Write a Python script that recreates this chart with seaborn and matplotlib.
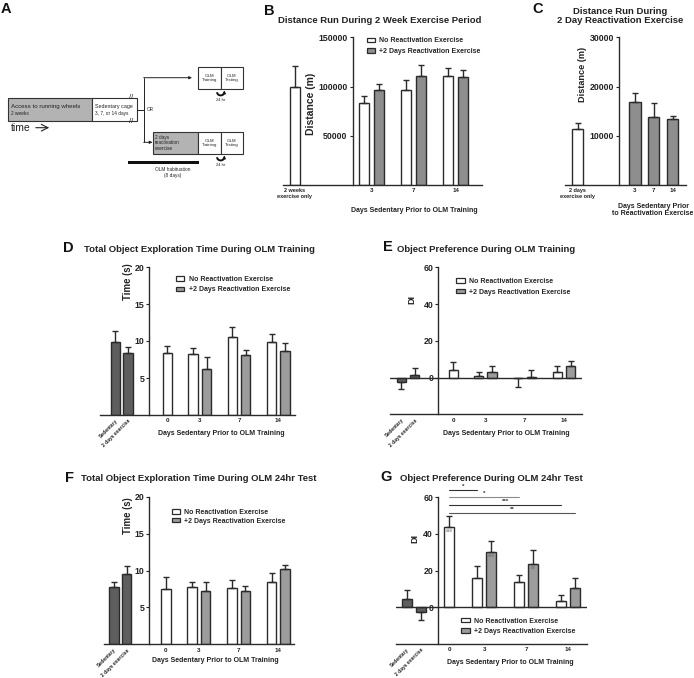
import numpy as np
import pandas as pd
import matplotlib.pyplot as plt
import seaborn as sns
from matplotlib.patches import Patch, Rectangle

sns.set_theme(style="ticks")
plt.rcParams['font.family'] = ['Liberation Sans', 'DejaVu Sans']
plt.rcParams['font.weight'] = 'bold'
plt.rcParams['axes.linewidth'] = 1.0

W, H = 694, 678
EDGE = '#2b2b2b'

series = ['No Reactivation Exercise', '+2 Days Reactivation Exercise']

# B - distance run during the 2 week exercise period
b_days = ['3', '7', '14']
b_ctrl_label = '2 weeks\nexercise only'
b_ctrl = [100000]
b_ctrl_sem = [20900]
b_no = [83200, 96600, 110800]
b_no_sem = [7400, 10100, 7700]
b_re = [96300, 110400, 110100]
b_re_sem = [6400, 11500, 6700]

# C - distance run during the 2 day reactivation
c_days = ['3', '7', '14']
c_ctrl_label = '2 days\nexercise only'
c_ctrl = [11300]
c_ctrl_sem = [1350]
c_re = [16900, 13750, 13350]
c_re_sem = [1800, 2950, 750]

# D-G share the same groups
days = ['0', '3', '7', '14']
base_labels = ['Sedentary', '2 days exercise']

d_base = [9.9, 8.4]
d_base_sem = [1.4, 0.75]
d_no = [8.4, 8.2, 10.5, 9.8]
d_no_sem = [0.9, 0.8, 1.4, 1.2]
d_re = [6.2, 8.1, 8.7]
d_re_sem = [1.6, 0.75, 1.0]

e_base = [-2.2, 1.3]
e_base_sem = [3.9, 3.9]
e_no = [4.3, 0.9, -0.5, 3.1]
e_no_sem = [4.0, 2.3, 4.9, 3.4]
e_re = [3.1, 0.2, 6.1]
e_re_sem = [3.0, 3.7, 3.1]

f_base = [7.7, 9.5]
f_base_sem = [0.7, 1.05]
f_no = [7.5, 7.8, 7.6, 8.5]
f_no_sem = [1.6, 0.7, 1.1, 1.2]
f_re = [7.25, 7.25, 10.2]
f_re_sem = [1.25, 0.7, 0.6]

g_base = [4.4, -2.5]
g_base_sem = [5.1, 4.4]
g_no = [44.0, 15.8, 13.8, 3.3]
g_no_sem = [5.6, 6.9, 3.7, 3.2]
g_re = [30.0, 23.8, 10.4]
g_re_sem = [6.2, 7.3, 5.4]

# significance vs day 0 (no reactivation)
g_sig_to = [('3', 'no'), ('7', 'no'), ('14', 'no'), ('14', 're')]
g_sig_marks = ['*', '*', '***', '**']
g_sig_y = [63.8, 60.0, 55.6, 51.3]
g_sig_colors = ['#333333', '#8a8a8a', '#333333', '#555555']
g_hash = [('0', 'no', '###'), ('3', 're', '###'), ('7', 're', '##')]

fig = plt.figure(figsize=(W / 100, H / 100), dpi=100)


def px_axes(x0, top, x1, bottom):
    return fig.add_axes([x0 / W, 1 - bottom / H, (x1 - x0) / W, (bottom - top) / H])


def ftext(x, y, s, **kw):
    kw.setdefault('ha', 'center')
    kw.setdefault('va', 'center')
    return fig.text(x / W, 1 - y / H, s, **kw)


def draw_bars(ax, df, bar_w, pal, yaxis_x, xlim, ylim, yticks):
    gap = np.min(np.diff(np.unique(df['pos'])))
    sns.barplot(data=df, x='pos', y='value', hue='kind', palette=pal,
                native_scale=True, dodge=False, width=bar_w / gap,
                errorbar=None, saturation=1, edgecolor=EDGE, linewidth=1.0,
                legend=False, ax=ax)
    up = np.where(df['value'] >= 0, df['sem'], 0)
    lo = np.where(df['value'] < 0, df['sem'], 0)
    ax.errorbar(df['pos'], df['value'], yerr=[lo, up], fmt='none',
                ecolor=EDGE, elinewidth=1.0, capsize=2.2, capthick=1.0)
    ax.set_xlim(*xlim)
    ax.set_ylim(*ylim)
    ax.set_yticks(yticks, [f'{t:g}' for t in yticks])
    ax.spines['left'].set_position(('data', yaxis_x))
    ax.spines[['top', 'right']].set_visible(False)
    for s in ('left', 'bottom'):
        ax.spines[s].set_color(EDGE)
    ax.tick_params(axis='y', labelsize=6.3, length=2.5, width=0.8, pad=1.2, colors='#222')
    ax.tick_params(axis='x', length=0, pad=2.5, labelsize=4.5, colors='#222')
    ax.set_xlabel('')
    ax.set_ylabel('')
    ax.set_facecolor('none')


def add_legend(ax, pal, anchor, spacing=0.5):
    handles = [Patch(facecolor=pal['no'], edgecolor=EDGE, lw=0.9, label=series[0]),
               Patch(facecolor=pal['re'], edgecolor=EDGE, lw=0.9, label=series[1])]
    ax.legend(handles=handles, loc='upper left', bbox_to_anchor=anchor,
              frameon=False, prop={'size': 5, 'weight': 'bold'},
              handlelength=1.25, handleheight=0.6, handletextpad=0.6,
              labelspacing=spacing, borderaxespad=0, borderpad=0)


OFF = 0.17


def olm_frame(base, base_sem, no, no_sem, re, re_sem, lay):
    day_x = np.r_[lay['g0'], np.arange(len(days) - 1, dtype=float)]
    no_x = day_x - np.r_[0, np.full(len(days) - 1, OFF)]
    re_x = day_x[1:] + OFF
    df = pd.concat([
        pd.DataFrame({'pos': lay['base'], 'value': base, 'sem': base_sem,
                      'kind': 'base', 'day': base_labels}),
        pd.DataFrame({'pos': no_x, 'value': no, 'sem': no_sem, 'kind': 'no', 'day': days}),
        pd.DataFrame({'pos': re_x, 'value': re, 'sem': re_sem, 'kind': 're', 'day': days[1:]}),
    ], ignore_index=True)
    return df, day_x


def olm_panel(box, data, lay, ylim, yticks, zero_line):
    ax = px_axes(*box)
    df, day_x = olm_frame(*data, lay)
    draw_bars(ax, df, 0.24, pal_olm, lay['yaxis'], lay['xlim'], ylim, yticks)
    if zero_line:
        ax.axhline(0, color=EDGE, lw=1.0, zorder=2)
    ax.set_xticks([*lay['base'], *day_x], [*base_labels, *days])
    for lab in ax.get_xticklabels()[:2]:
        lab.set_rotation(45)
        lab.set_ha('right')
        lab.set_rotation_mode('anchor')
        lab.set_fontsize(3.6)
    return ax, df


# ---------- A : design schematic ----------
axA = fig.add_axes([0, 1 - 195 / H, 250 / W, 195 / H])
axA.set_xlim(0, 250)
axA.set_ylim(195, 0)
axA.axis('off')
tk = dict(fontweight='normal', color='#222', va='center')
axA.add_patch(Rectangle((8.3, 98.3), 84, 22.4, fc='#b3b3b3', ec='#333', lw=0.8))
axA.add_patch(Rectangle((92.3, 98.3), 45, 22.4, fc='white', ec='#333', lw=0.8))
axA.text(11, 106.5, 'Access to running wheels', fontsize=4.4, ha='left', **tk)
axA.text(11, 113.8, '2 weeks', fontsize=3.4, ha='left', **tk)
axA.text(95, 106.5, 'Sedentary cage', fontsize=3.9, ha='left', **tk)
axA.text(95, 113.8, '3, 7, or 14 days', fontsize=3.4, ha='left', **tk)
for yy in (97.8, 121.2):
    axA.text(131.5, yy, '//', fontsize=5.5, ha='center', **tk)
axA.text(11, 127.7, 'time', fontsize=7.5, ha='left', **tk)
axA.annotate('', xy=(52, 127.7), xytext=(33, 127.7),
             arrowprops=dict(arrowstyle='->', lw=0.8, color='#222'))
axA.plot([137.3, 144], [109.5, 109.5], color='#222', lw=0.7)
axA.plot([144, 144], [77.7, 142.3], color='#222', lw=0.7)
axA.annotate('', xy=(192, 77.7), xytext=(143.7, 77.7),
             arrowprops=dict(arrowstyle='-|>', lw=0.7, color='#222', mutation_scale=4, shrinkA=0, shrinkB=0))
axA.annotate('', xy=(152.5, 142.3), xytext=(143.7, 142.3),
             arrowprops=dict(arrowstyle='-|>', lw=0.7, color='#222', mutation_scale=4, shrinkA=0, shrinkB=0))
axA.text(147, 109.5, 'OR', fontsize=3.3, ha='left', **tk)
axA.add_patch(Rectangle((152.7, 131.7), 45.6, 22.6, fc='#b3b3b3', ec='#333', lw=0.8))
axA.text(155, 143, '2 days\nreactivation\nexercise', fontsize=3.4, ha='left',
         linespacing=1.15, **tk)
theta = np.linspace(np.pi, 0.15, 30)
for top in (66.7, 131.7):
    for i, lab in enumerate(['OLM\nTraining', 'OLM\nTesting']):
        axA.add_patch(Rectangle((198.3 + 22.4 * i, top), 22.4, 22.6, fc='white', ec='#333', lw=0.8))
        axA.text(209.5 + 22.4 * i, top + 11.3, lab, fontsize=3.2, ha='center',
                 linespacing=1.2, **tk)
    yy = top + 25.5
    axA.plot(220.7 + 3.6 * np.cos(theta), yy + 3.2 * np.sin(theta), color='#111', lw=1.4,
             solid_capstyle='butt')
    axA.annotate('', xy=(224.4, yy - 1.8), xytext=(224.3, yy + 0.6),
                 arrowprops=dict(arrowstyle='-|>', lw=0.8, color='#111', mutation_scale=4,
                                 shrinkA=0, shrinkB=0))
    axA.text(220.7, yy + 8, '24 hr', fontsize=3, ha='center', **tk)
axA.add_patch(Rectangle((127.7, 160.8), 71, 3.2, fc='#111', ec='none'))
axA.text(172.3, 169.5, 'OLM habituation', fontsize=3.4, ha='center', **tk)
axA.text(172.3, 175.8, '(8 days)', fontsize=3.4, ha='center', **tk)

# ---------- B ----------
palB = {'ctrl': 'white', 'no': 'white', 're': '#8e8e8e'}
axB = px_axes(283, 37.3, 482, 185)
cB = np.arange(len(b_days), dtype=float)
dfB = pd.concat([
    pd.DataFrame({'pos': [-1.83], 'value': b_ctrl, 'sem': b_ctrl_sem, 'kind': 'ctrl'}),
    pd.DataFrame({'pos': cB - 0.175, 'value': b_no, 'sem': b_no_sem, 'kind': 'no'}),
    pd.DataFrame({'pos': cB + 0.175, 'value': b_re, 'sem': b_re_sem, 'kind': 're'}),
], ignore_index=True)
draw_bars(axB, dfB, 0.245, palB, -0.45, (-2.11, 2.63), (0, 150000), [50000, 100000, 150000])
axB.set_xticks([-1.83, *cB], [b_ctrl_label, *b_days])
axB.get_xticklabels()[0].set_fontsize(4)
add_legend(axB, palB, (0.42, 1.0))

# ---------- C ----------
palC = {'ctrl': 'white', 're': '#8e8e8e'}
axC = px_axes(565, 37.3, 686, 185)
cC = np.arange(len(c_days), dtype=float)
dfC = pd.concat([
    pd.DataFrame({'pos': [-3.04], 'value': c_ctrl, 'sem': c_ctrl_sem, 'kind': 'ctrl'}),
    pd.DataFrame({'pos': cC, 'value': c_re, 'sem': c_re_sem, 'kind': 're'}),
], ignore_index=True)
draw_bars(axC, dfC, 0.6, palC, -0.83, (-3.71, 2.71), (0, 30000), [10000, 20000, 30000])
axC.set_xticks([-3.04, *cC], [c_ctrl_label, *c_days])
axC.get_xticklabels()[0].set_fontsize(4)

# ---------- D-G ----------
pal_olm = {'base': '#5e5e5e', 'no': 'white', 're': '#9c9c9c'}

layD = {'g0': -0.83, 'base': [-2.16, -1.84], 'yaxis': -1.29, 'xlim': (-2.55, 2.43)}
layE = {'g0': -0.82, 'base': [-2.14, -1.80], 'yaxis': -1.2, 'xlim': (-2.43, 2.45)}
layF = {'g0': -0.83, 'base': [-2.13, -1.81], 'yaxis': -1.24, 'xlim': (-2.38, 2.39)}
layG = {'g0': -0.83, 'base': [-1.84, -1.50], 'yaxis': -1.095, 'xlim': (-2.1, 2.44)}

axD, _ = olm_panel((100, 267, 295, 415), (d_base, d_base_sem, d_no, d_no_sem, d_re, d_re_sem),
                   layD, (0, 20), [5, 10, 15, 20], False)
add_legend(axD, pal_olm, (0.388, 0.94))
axE, _ = olm_panel((390, 267.3, 581.7, 414.3), (e_base, e_base_sem, e_no, e_no_sem, e_re, e_re_sem),
                   layE, (-20, 60), [0, 20, 40, 60], True)
add_legend(axE, pal_olm, (0.344, 0.927))
axF, _ = olm_panel((104, 496.7, 294, 644.3), (f_base, f_base_sem, f_no, f_no_sem, f_re, f_re_sem),
                   layF, (0, 20), [5, 10, 15, 20], False)
add_legend(axF, pal_olm, (0.356, 0.917), spacing=0.25)
axG, dfG = olm_panel((396, 497.3, 586.7, 644), (g_base, g_base_sem, g_no, g_no_sem, g_re, g_re_sem),
                     layG, (-20, 60), [0, 20, 40, 60], True)
add_legend(axG, pal_olm, (0.341, 0.18))


def bar_x(df, day, kind):
    return df.loc[(df['day'] == day) & (df['kind'] == kind), 'pos'].iloc[0]


def bar_v(df, day, kind):
    return df.loc[(df['day'] == day) & (df['kind'] == kind), 'value'].iloc[0]


x0 = bar_x(dfG, '0', 'no')
for (d, k), mark, yy, col in zip(g_sig_to, g_sig_marks, g_sig_y, g_sig_colors):
    x1 = bar_x(dfG, d, k)
    axG.plot([x0, x1], [yy, yy], color=col, lw=0.8, clip_on=False)
    axG.text((x0 + x1) / 2, yy + 0.6, mark, fontsize=4.5, ha='center', va='bottom',
             color='#333', clip_on=False)
for d, k, mark in g_hash:
    axG.text(bar_x(dfG, d, k), bar_v(dfG, d, k) - 2.2, mark, fontsize=3, ha='center',
             va='center', color='#666')

# ---------- titles, letters and axis labels ----------
tt = dict(fontsize=6.8, fontweight='bold', color='#222')
ftext(380, 20.7, 'Distance Run During 2 Week Exercise Period', **tt)
ftext(620, 16.2, 'Distance Run During\n2 Day Reactivation Exercise', linespacing=0.95, **tt)
ftext(199.7, 249.3, 'Total Object Exploration Time During OLM Training', **tt)
ftext(486, 249.3, 'Object Preference During OLM Training', **tt)
ftext(198.5, 478.3, 'Total Object Exploration Time During OLM 24hr Test', **tt)
ftext(491, 478.3, 'Object Preference During OLM 24hr Test', **tt)

lt = dict(fontsize=10.5, fontweight='bold', color='#111')
for x, y, s in [(5.5, 8.7, 'A'), (269, 11, 'B'), (538, 9.3, 'C'), (68, 248, 'D'),
                (387.5, 247.5, 'E'), (69.5, 477.5, 'F'), (386.5, 477, 'G')]:
    ftext(x, y, s, **lt)

xl = dict(fontsize=5, fontweight='bold', color='#222')
ftext(414.7, 210.7, 'Days Sedentary Prior to OLM Training', **xl)
ftext(653, 209.7, 'Days Sedentary Prior\nto Reactivation Exercise', linespacing=1.05, **xl)
ftext(221.3, 433.3, 'Days Sedentary Prior to OLM Training', **xl)
ftext(506.7, 433.3, 'Days Sedentary Prior to OLM Training', **xl)
ftext(215.3, 660.7, 'Days Sedentary Prior to OLM Training', **xl)
ftext(510.5, 662, 'Days Sedentary Prior to OLM Training', **xl)

yl = dict(fontweight='bold', color='#222', rotation=90)
ftext(311, 103.5, 'Distance (m)', fontsize=7.5, **yl)
ftext(582.7, 74, 'Distance (m)', fontsize=6.6, **yl)
ftext(128.3, 281.7, 'Time (s)', fontsize=6.9, **yl)
ftext(411.7, 300, 'DI', fontsize=6.5, **yl)
ftext(128.3, 516, 'Time (s)', fontsize=6.9, **yl)
ftext(415, 538.3, 'DI', fontsize=6.5, **yl)

fig.savefig('out.png', dpi=100, facecolor='white')
